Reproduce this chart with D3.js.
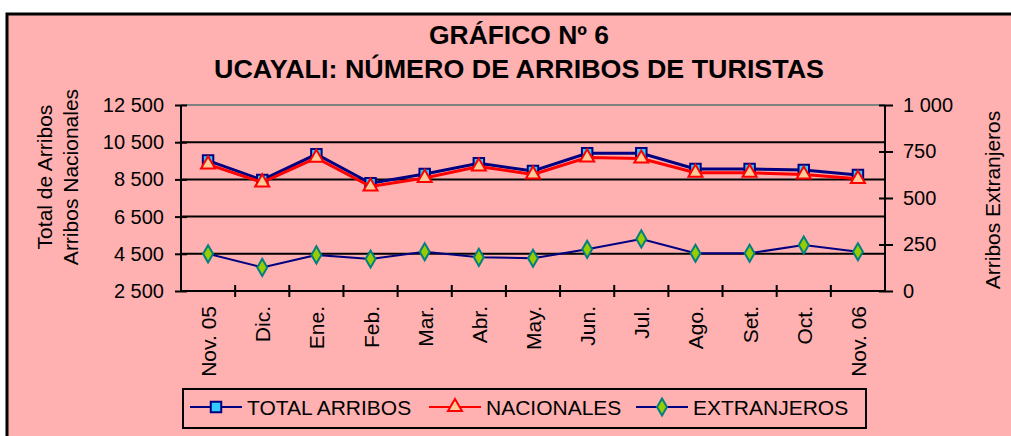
<!DOCTYPE html>
<html>
<head>
<meta charset="utf-8">
<script src="https://cdn.jsdelivr.net/npm/d3@7"></script>
<style>
  body { margin: 0; background: #fff; }
  text { font-family: Arial, "Liberation Sans", sans-serif; }
</style>
</head>
<body>
<svg id="chart" width="1011" height="436"></svg>
<script>
// chart data
const months = ["Nov. 05", "Dic.", "Ene.", "Feb.", "Mar.", "Abr.", "May.", "Jun.", "Jul.", "Ago.", "Set.", "Oct.", "Nov. 06"];
const totalArribos = [9510, 8470, 9850, 8290, 8790, 9370, 8950, 9900, 9900, 9060, 9060, 9010, 8740];
const nacionales = [9310, 8340, 9660, 8120, 8580, 9190, 8770, 9680, 9620, 8860, 8860, 8760, 8530];
const extranjeros = [200, 127, 194, 172, 211, 181, 176, 224, 280, 203, 203, 247, 211];
const leftTicks = [2500, 4500, 6500, 8500, 10500, 12500];
const rightTicks = [0, 250, 500, 750, 1000];

const svg = d3.select("#chart");
const plot = { left: 181, right: 885, top: 105, bottom: 291 };
const FONT = "Arial, 'Liberation Sans', sans-serif";

// background + frame
svg.append("rect")
    .attr("x", 7).attr("y", 14)
    .attr("width", 1020).attr("height", 440)
    .attr("fill", "#ffb0b0")
    .attr("stroke", "#000")
    .attr("stroke-width", 3);

// titles (the original is a little wider than the font, so stretch to fit)
svg.append("text")
    .attr("x", 519).attr("y", 44)
    .attr("text-anchor", "middle")
    .attr("font-size", 25).attr("font-weight", "bold")
    .attr("textLength", 180).attr("lengthAdjust", "spacingAndGlyphs")
    .text("GRÁFICO Nº 6");

svg.append("text")
    .attr("x", 519).attr("y", 78)
    .attr("text-anchor", "middle")
    .attr("font-size", 25).attr("font-weight", "bold")
    .attr("textLength", 610).attr("lengthAdjust", "spacingAndGlyphs")
    .text("UCAYALI: NÚMERO DE ARRIBOS DE TURISTAS");

const x = d3.scaleBand()
    .domain(months)
    .range([plot.left, plot.right]);

const yLeft = d3.scaleLinear()
    .domain([2500, 12500])
    .range([plot.bottom, plot.top]);

const yRight = d3.scaleLinear()
    .domain([0, 1000])
    .range([plot.bottom, plot.top]);

const fmt = v => d3.format(",")(v).replace(/,/g, " ");

// gridlines
svg.append("g")
    .selectAll("line")
    .data(leftTicks.slice(1))
    .join("line")
    .attr("x1", plot.left).attr("x2", plot.right)
    .attr("y1", d => yLeft(d)).attr("y2", d => yLeft(d))
    .attr("stroke", d => d === 12500 ? "#808080" : "#000")
    .attr("stroke-width", 2);

// left axis
const gLeft = svg.append("g")
    .attr("transform", `translate(${plot.left},0)`)
    .call(d3.axisLeft(yLeft).tickValues(leftTicks).tickFormat(fmt).tickSize(6).tickPadding(11));
gLeft.select(".domain").remove();
gLeft.selectAll(".tick line").attr("x2", -6).attr("x1", 6).attr("stroke-width", 2);
gLeft.selectAll(".tick text").attr("font-size", 20).attr("font-family", FONT).attr("fill", "#000");
gLeft.append("line")
    .attr("y1", plot.top).attr("y2", plot.bottom)
    .attr("stroke", "#000").attr("stroke-width", 2);

// right axis
const gRight = svg.append("g")
    .attr("transform", `translate(${plot.right},0)`)
    .call(d3.axisRight(yRight).tickValues(rightTicks).tickFormat(fmt).tickSize(8).tickPadding(10));
gRight.select(".domain").remove();
gRight.selectAll(".tick line").attr("x1", -6).attr("x2", 8).attr("stroke-width", 2);
gRight.selectAll(".tick text").attr("font-size", 20).attr("font-family", FONT).attr("fill", "#000");
gRight.append("line")
    .attr("y1", plot.top).attr("y2", plot.bottom)
    .attr("stroke", "#000").attr("stroke-width", 2);

// bottom axis
const gBottom = svg.append("g")
    .attr("transform", `translate(0,${plot.bottom})`);
gBottom.append("line")
    .attr("x1", plot.left).attr("x2", plot.right)
    .attr("stroke", "#000").attr("stroke-width", 2);
gBottom.selectAll("line.tk")
    .data(months.slice(1))
    .join("line")
    .attr("class", "tk")
    .attr("x1", d => x(d)).attr("x2", d => x(d))
    .attr("y1", -6).attr("y2", 6)
    .attr("stroke", "#000").attr("stroke-width", 2);
gBottom.selectAll("text")
    .data(months)
    .join("text")
    .attr("transform", d => `translate(${x(d) + x.bandwidth() / 2 + 8},15) rotate(-90)`)
    .attr("text-anchor", "end")
    .attr("font-size", 21)
    .text(d => d);

// axis titles
svg.append("text")
    .attr("transform", "translate(52,177) rotate(-90)")
    .attr("text-anchor", "middle").attr("font-size", 21)
    .text("Total de Arribos");
svg.append("text")
    .attr("transform", "translate(78,177) rotate(-90)")
    .attr("text-anchor", "middle").attr("font-size", 21)
    .text("Arribos Nacionales");
svg.append("text")
    .attr("transform", "translate(1000,200) rotate(-90)")
    .attr("text-anchor", "middle").attr("font-size", 21)
    .text("Arribos Extranjeros");

const cx = d => x(d) + x.bandwidth() / 2;

const series = [
    { name: "TOTAL ARRIBOS", values: totalArribos, y: yLeft, line: "#000080", lw: 3,
      shape: d3.symbolSquare, size: 110, fill: "#33ccff", stroke: "#000080" },
    { name: "NACIONALES", values: nacionales, y: yLeft, line: "#ff0000", lw: 3,
      shape: d3.symbolTriangle, size: 85, fill: "#ffcc99", stroke: "#ff0000" },
    { name: "EXTRANJEROS", values: extranjeros, y: yRight, line: "#000080", lw: 2,
      shape: d3.symbolDiamond, size: 85, fill: "#99cc00", stroke: "#008080" }
];

series.forEach(s => {
    const line = d3.line()
        .x((d, i) => cx(months[i]))
        .y(d => s.y(d));
    svg.append("path")
        .datum(s.values)
        .attr("d", line)
        .attr("fill", "none")
        .attr("stroke", s.line)
        .attr("stroke-width", s.lw);
    svg.append("g")
        .selectAll("path")
        .data(s.values)
        .join("path")
        .attr("transform", (d, i) => `translate(${cx(months[i])},${s.y(d)})`)
        .attr("d", d3.symbol(s.shape, s.size))
        .attr("fill", s.fill)
        .attr("stroke", s.stroke)
        .attr("stroke-width", 2);
});

// legend
const legend = svg.append("g");
legend.append("rect")
    .attr("x", 183).attr("y", 389)
    .attr("width", 683).attr("height", 39)
    .attr("fill", "#ffb0b0")
    .attr("stroke", "#000").attr("stroke-width", 2);

const legendX = [190, 429, 636];
series.forEach((s, i) => {
    const lx = legendX[i];
    const ly = 407;
    legend.append("line")
        .attr("x1", lx).attr("x2", lx + 52)
        .attr("y1", ly).attr("y2", ly)
        .attr("stroke", s.line).attr("stroke-width", 2);
    legend.append("path")
        .attr("transform", `translate(${lx + 26},${ly})`)
        .attr("d", d3.symbol(s.shape, s.size))
        .attr("fill", s.fill)
        .attr("stroke", s.stroke)
        .attr("stroke-width", 2);
    legend.append("text")
        .attr("x", lx + 57).attr("y", ly + 7.5)
        .attr("font-size", 21)
        .text(s.name);
});
</script>
</body>
</html>
